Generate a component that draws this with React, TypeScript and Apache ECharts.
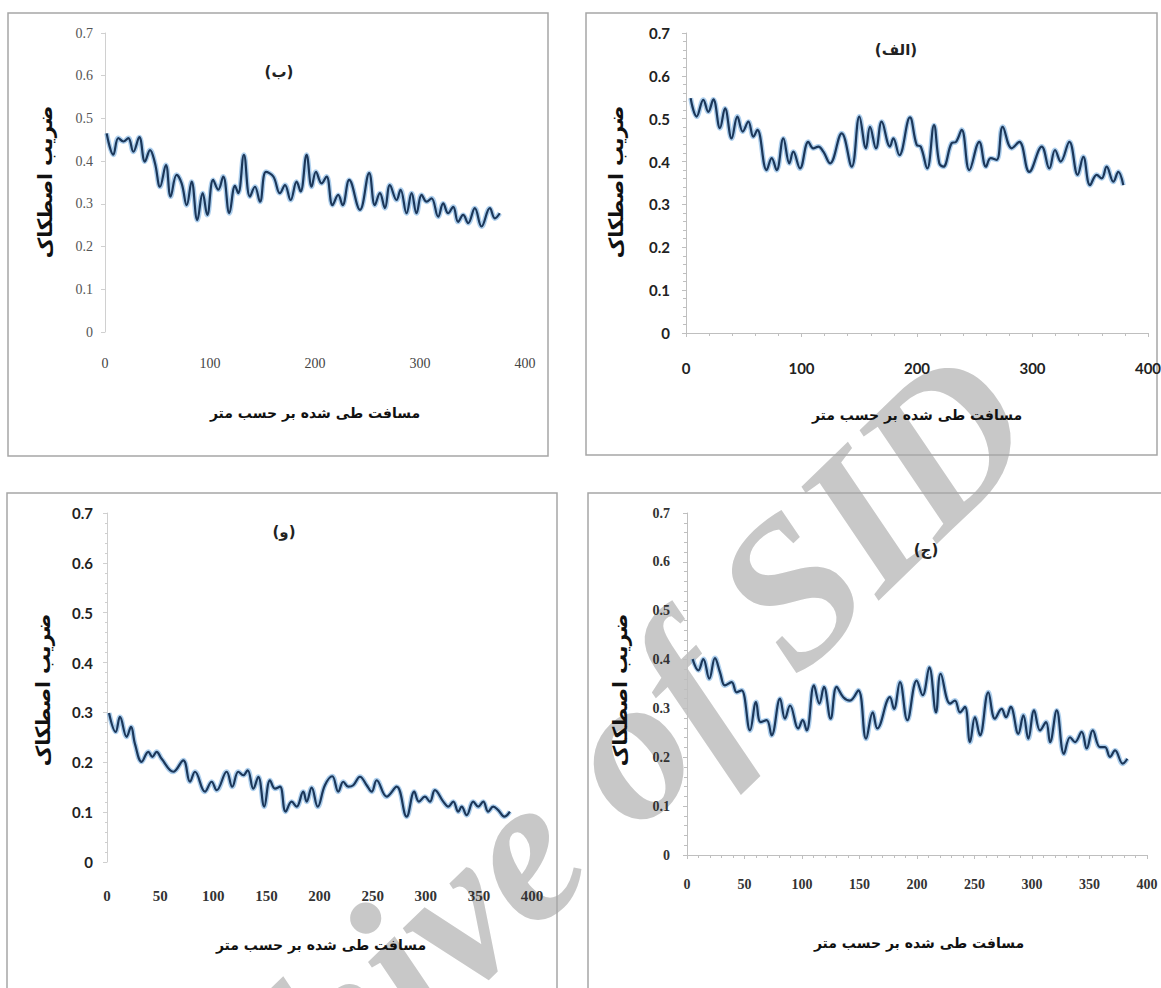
import React, { useEffect, useRef } from "react";
import * as echarts from "echarts";

// ---- data (distance in m, friction coefficient) ----
// panel (الف) — top right
const distAlef = [4.0, 9.2, 15.0, 19.3, 23.7, 29.4, 33.8, 39.5, 44.5, 49.1, 54, 58.3, 61.8, 69.8, 74.2, 78.5, 84.3, 89.5, 92.9, 98.7, 105.9, 110.2, 114.6, 118.9, 124.7, 134.8, 143.5, 150.1, 155.8, 159.3, 164.5, 169.4, 176.6, 179.5, 184.7, 193.9, 199.7, 203.2, 208.9, 214.7, 219.3, 222.8, 230, 233.8, 238.7, 245.3, 253.9, 259.7, 263.8, 269, 274.2, 282, 288.6, 297.2, 308, 314.6, 319.5, 324.4, 331.9, 339.1, 344, 349.8, 355.6, 359.9, 364.2, 370, 374.3, 378.6];
const fricAlef = [0.548, 0.505, 0.544, 0.516, 0.545, 0.478, 0.524, 0.454, 0.505, 0.47, 0.493, 0.458, 0.474, 0.38, 0.408, 0.38, 0.454, 0.396, 0.423, 0.384, 0.446, 0.431, 0.435, 0.423, 0.396, 0.466, 0.388, 0.505, 0.431, 0.481, 0.431, 0.493, 0.435, 0.454, 0.415, 0.503, 0.439, 0.435, 0.384, 0.485, 0.396, 0.388, 0.443, 0.446, 0.474, 0.38, 0.446, 0.388, 0.408, 0.404, 0.481, 0.431, 0.446, 0.376, 0.435, 0.384, 0.427, 0.4, 0.446, 0.369, 0.411, 0.345, 0.369, 0.361, 0.388, 0.353, 0.376, 0.345];

// panel (ب) — top left
const distBe = [1.6, 7.9, 12.7, 17.5, 22.2, 27, 32.7, 38, 42.9, 47.6, 52.4, 58, 62.5, 68.2, 73, 77.8, 82.5, 87.9, 93, 97.4, 103, 107.9, 112.6, 118.4, 123.8, 126.9, 132.3, 138, 142.8, 147.6, 153.3, 160.3, 166.6, 171.4, 176.8, 182.5, 186.3, 192, 196.8, 200.9, 206.3, 211, 216.7, 222.1, 226.3, 232.6, 242.8, 251.6, 257, 261.8, 266.6, 271.3, 277.7, 281.5, 287.2, 292, 296.7, 301.5, 306.3, 311, 317.3, 322.1, 326.8, 331.6, 336.3, 341.1, 345.9, 352.2, 358.6, 366.5, 371.3, 376];
const fricBe = [0.465, 0.415, 0.454, 0.446, 0.454, 0.422, 0.456, 0.399, 0.426, 0.395, 0.34, 0.391, 0.317, 0.368, 0.348, 0.297, 0.352, 0.262, 0.325, 0.274, 0.356, 0.333, 0.364, 0.278, 0.342, 0.325, 0.415, 0.317, 0.34, 0.305, 0.375, 0.364, 0.325, 0.344, 0.309, 0.352, 0.329, 0.415, 0.34, 0.375, 0.348, 0.364, 0.297, 0.321, 0.297, 0.356, 0.286, 0.372, 0.297, 0.325, 0.29, 0.344, 0.309, 0.333, 0.278, 0.325, 0.278, 0.321, 0.305, 0.313, 0.27, 0.301, 0.278, 0.293, 0.258, 0.274, 0.255, 0.29, 0.247, 0.29, 0.266, 0.278];

// panel (و) — bottom left
const distVav = [1.9, 8.2, 12.2, 18.5, 22.6, 26.3, 32.6, 38.9, 42.7, 46.7, 51.4, 62.4, 71.8, 78.1, 82.8, 92.2, 98.5, 103.2, 112.6, 117.9, 123.6, 128.3, 132.4, 137.7, 142.4, 148, 153.4, 158.1, 162.8, 168.1, 173.8, 178.5, 184.7, 187.9, 192.6, 198.3, 205.1, 212, 217.7, 222.4, 227.1, 231.8, 238.1, 244.4, 249.1, 253.8, 263.2, 272.6, 282, 289.2, 293.6, 299.2, 303.9, 308.6, 316.5, 321.2, 325.9, 330.6, 333.8, 338.5, 344.7, 349.4, 354.1, 358.8, 363.5, 368.2, 373.9, 379.2];
const fricVav = [0.299, 0.261, 0.291, 0.251, 0.271, 0.237, 0.201, 0.221, 0.211, 0.221, 0.207, 0.181, 0.204, 0.161, 0.181, 0.141, 0.161, 0.144, 0.181, 0.151, 0.181, 0.174, 0.184, 0.147, 0.171, 0.111, 0.164, 0.147, 0.151, 0.101, 0.121, 0.111, 0.141, 0.121, 0.149, 0.111, 0.154, 0.172, 0.141, 0.161, 0.151, 0.154, 0.171, 0.154, 0.141, 0.164, 0.131, 0.151, 0.091, 0.141, 0.121, 0.131, 0.121, 0.144, 0.121, 0.111, 0.121, 0.101, 0.111, 0.094, 0.121, 0.111, 0.121, 0.101, 0.111, 0.104, 0.091, 0.101];

// panel (ج) — bottom right
const distJim = [4.9, 9.9, 14.2, 19.4, 24.3, 28.7, 33, 38.8, 43.2, 47.5, 54.8, 60, 64, 69.3, 73.6, 80.9, 85.2, 89.6, 96.8, 100.6, 104.1, 110.4, 115.1, 119.1, 124.9, 130.1, 135.9, 141.7, 149, 155.7, 161.5, 165.5, 176.5, 180, 185.2, 191.6, 199.7, 204.9, 210.7, 216.5, 220.6, 228.7, 233, 237.4, 241.7, 246.1, 250.4, 254.8, 262, 267.8, 273.6, 277.4, 281.5, 288.1, 292.5, 296.8, 301.8, 307, 312.2, 315.7, 321.5, 327.8, 333.1, 337.4, 343.2, 347.6, 352.8, 359.1, 363.5, 367.8, 372.2, 378.9, 382.9];
const fricJim = [0.401, 0.378, 0.401, 0.361, 0.403, 0.374, 0.347, 0.354, 0.333, 0.337, 0.255, 0.313, 0.272, 0.276, 0.245, 0.32, 0.279, 0.306, 0.259, 0.276, 0.255, 0.347, 0.31, 0.344, 0.279, 0.344, 0.323, 0.316, 0.337, 0.238, 0.292, 0.259, 0.323, 0.299, 0.354, 0.276, 0.357, 0.327, 0.384, 0.292, 0.371, 0.31, 0.316, 0.292, 0.303, 0.231, 0.282, 0.245, 0.333, 0.279, 0.299, 0.282, 0.303, 0.248, 0.286, 0.238, 0.296, 0.255, 0.272, 0.231, 0.296, 0.207, 0.241, 0.231, 0.252, 0.218, 0.255, 0.221, 0.221, 0.201, 0.214, 0.187, 0.197];

const yTitle = "ضریب اصطکاک";
const xTitle = "مسافت طی شده بر حسب متر";
const panelTitles = ["(ب)", "(الف)", "(و)", "(ج)"];
const watermark = "Archive of SID";

const SERIF = "'Liberation Serif', 'Times New Roman', serif";
const SANS = "Lato, 'Liberation Sans', sans-serif";
const FA = "'DejaVu Sans', 'Noto Sans', sans-serif";

const zip = (xs: number[], ys: number[]) => xs.map((x, i) => [x, ys[i]]);

export default function App() {
  const ref = useRef<HTMLDivElement>(null);

  useEffect(() => {
    if (!ref.current) return;
    const chart = echarts.init(ref.current, undefined, { renderer: "svg" });

    // order: 0 TL (ب), 1 TR (الف), 2 BL (و), 3 BR (ج)
    const panelData = [zip(distBe, fricBe), zip(distAlef, fricAlef), zip(distVav, fricVav), zip(distJim, fricJim)];

    const grids = [
      { left: 105, top: 33, width: 420, height: 299 },
      { left: 686, top: 33, width: 462, height: 300 },
      { left: 107, top: 513, width: 425, height: 349 },
      { left: 687, top: 513, width: 460, height: 342 },
    ];

    const axisGray = "#bfbfbf";
    const xAxes = [
      {
        interval: 100,
        axisLine: { show: false },
        axisTick: { show: false },
        axisLabel: { fontFamily: SERIF, fontSize: 14, color: "#444", margin: 24 },
      },
      {
        interval: 100,
        axisLine: { show: true, lineStyle: { color: axisGray, width: 1 } },
        axisTick: { show: true, length: 4, lineStyle: { color: axisGray } },
        minorTick: { show: true, splitNumber: 5, length: 3, lineStyle: { color: axisGray } },
        axisLabel: { fontFamily: SANS, fontWeight: "bold", fontSize: 15, color: "#222", margin: 27 },
      },
      {
        interval: 50,
        axisLine: { show: false },
        axisTick: { show: false },
        axisLabel: { fontFamily: SERIF, fontWeight: "bold", fontSize: 15, color: "#333", margin: 26 },
      },
      {
        interval: 50,
        axisLine: { show: true, lineStyle: { color: axisGray, width: 1 } },
        axisTick: { show: true, length: 4, lineStyle: { color: axisGray } },
        minorTick: { show: true, splitNumber: 5, length: 3, lineStyle: { color: axisGray } },
        axisLabel: { fontFamily: SERIF, fontWeight: "bold", fontSize: 14, color: "#333", margin: 22 },
      },
    ].map((a, i) => ({
      type: "value",
      gridIndex: i,
      min: 0,
      max: 400,
      splitLine: { show: false },
      z: 3,
      ...a,
    }));

    const yAxes = [
      {
        axisLine: { show: true, lineStyle: { color: "#d0d0d0" } },
        axisTick: { show: true, length: 4, lineStyle: { color: "#d0d0d0" } },
        axisLabel: { fontFamily: SERIF, fontSize: 14, color: "#555", margin: 12 },
      },
      {
        axisLine: { show: true, lineStyle: { color: axisGray } },
        axisTick: { show: true, length: 4, lineStyle: { color: axisGray } },
        minorTick: { show: true, splitNumber: 5, length: 3, lineStyle: { color: axisGray } },
        axisLabel: { fontFamily: SANS, fontWeight: "bold", fontSize: 15, color: "#222", margin: 16 },
      },
      {
        axisLine: { show: true, lineStyle: { color: "#cfcfcf" } },
        axisTick: { show: true, length: 4, lineStyle: { color: "#cfcfcf" } },
        minorTick: { show: true, splitNumber: 5, length: 2, lineStyle: { color: "#cfcfcf" } },
        axisLabel: { fontFamily: SANS, fontWeight: "bold", fontSize: 15, color: "#222", margin: 14 },
      },
      {
        axisLine: { show: true, lineStyle: { color: axisGray } },
        axisTick: { show: true, length: 4, lineStyle: { color: axisGray } },
        minorTick: { show: true, splitNumber: 5, length: 3, lineStyle: { color: axisGray } },
        axisLabel: { fontFamily: SERIF, fontWeight: "bold", fontSize: 14, color: "#333", margin: 17 },
      },
    ].map((a, i) => ({
      type: "value",
      gridIndex: i,
      min: 0,
      max: 0.7,
      interval: 0.1,
      splitLine: { show: false },
      z: 3,
      ...a,
    }));

    const series: any[] = [];
    panelData.forEach((d, i) => {
      series.push({
        type: "line",
        xAxisIndex: i,
        yAxisIndex: i,
        data: d,
        smooth: 0.4,
        showSymbol: false,
        symbol: "none",
        lineStyle: { color: "rgba(120,175,225,0.6)", width: 5 },
        z: 4,
      });
      series.push({
        type: "line",
        xAxisIndex: i,
        yAxisIndex: i,
        data: d,
        smooth: 0.4,
        showSymbol: false,
        symbol: "none",
        lineStyle: { color: "#1b375a", width: 2.2 },
        z: 5,
      });
    });

    const borders = [
      { x: 8, y: 13, width: 540, height: 443 },
      { x: 586, y: 13, width: 571, height: 442 },
      { x: 7, y: 493, width: 550, height: 500 },
      { x: 588, y: 493, width: 580, height: 500 },
    ];
    const titlePos = [
      [279, 72],
      [896, 50],
      [284, 532],
      [926, 550],
    ];
    const xTitlePos = [
      [315, 413],
      [917, 415],
      [321, 945],
      [919, 943],
    ];
    const yTitlePos = [
      [45, 182],
      [616, 182],
      [43, 690],
      [620, 690],
    ];

    const graphic: any[] = [
      {
        type: "text",
        x: 534,
        y: 837,
        rotation: 0.768,
        z: -10,
        silent: true,
        style: {
          text: watermark,
          font: `italic bold 207px ${SERIF}`,
          fill: "#c8c8c8",
          textAlign: "center",
          textVerticalAlign: "middle",
          align: "center",
          verticalAlign: "middle",
        },
      },
    ];
    borders.forEach((b) => {
      graphic.push({
        type: "rect",
        shape: b,
        z: 1,
        silent: true,
        style: { fill: "none", stroke: "#a6a6a6", lineWidth: 1.5 },
      });
    });
    titlePos.forEach((p, i) => {
      graphic.push({
        type: "text",
        x: p[0],
        y: p[1],
        z: 10,
        style: {
          text: panelTitles[i],
          font: `bold 15px ${FA}`,
          fill: "#222",
          textAlign: "center",
          textVerticalAlign: "middle",
          align: "center",
          verticalAlign: "middle",
        },
      });
    });
    xTitlePos.forEach((p) => {
      graphic.push({
        type: "text",
        x: p[0],
        y: p[1],
        z: 10,
        style: {
          text: xTitle,
          font: `bold 14px ${FA}`,
          fill: "#111",
          textAlign: "center",
          textVerticalAlign: "middle",
          align: "center",
          verticalAlign: "middle",
        },
      });
    });
    yTitlePos.forEach((p) => {
      graphic.push({
        type: "text",
        x: p[0],
        y: p[1],
        rotation: Math.PI / 2,
        z: 10,
        style: {
          text: yTitle,
          font: `bold 20px ${FA}`,
          fill: "#111",
          textAlign: "center",
          textVerticalAlign: "middle",
          align: "center",
          verticalAlign: "middle",
        },
      });
    });

    chart.setOption({
      animation: false,
      backgroundColor: "#ffffff",
      grid: grids.map((g) => ({ ...g, containLabel: false, outerBoundsMode: "none" })),
      xAxis: xAxes,
      yAxis: yAxes,
      series,
      graphic,
    });

    return () => {
      chart.dispose();
    };
  }, []);

  return (
    <div
      ref={ref}
      style={{ position: "fixed", left: 0, top: 0, width: 1161, height: 988, background: "#fff" }}
    />
  );
}
